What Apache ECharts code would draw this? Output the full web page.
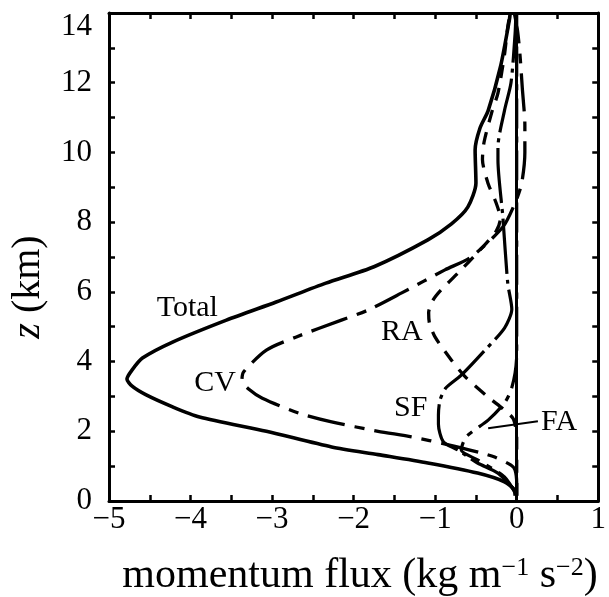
<!DOCTYPE html>
<html>
<head>
<meta charset="utf-8">
<script src="https://cdn.jsdelivr.net/npm/echarts@6/dist/echarts.min.js"></script>
<style>
html,body{margin:0;padding:0;background:#fff}
#chart{width:609px;height:597px}
</style>
</head>
<body>
<div id="chart"></div>
<script>
// Vertical profiles of momentum flux: each point is [flux (kg m^-1 s^-2), height z (km)]
const total = [[-0.02,0.15],[-0.03,0.32],[-0.15,0.55],[-0.48,0.80],[-1.09,1.09],[-1.70,1.33],[-2.27,1.55],
  [-3.07,2.0],[-3.89,2.41],[-4.22,2.70],[-4.55,3.05],[-4.72,3.3],[-4.78,3.5],[-4.72,3.75],[-4.59,4.10],
  [-4.22,4.56],[-3.56,5.19],[-2.95,5.71],[-2.34,6.25],[-1.75,6.72],[-1.09,7.49],[-0.80,7.95],[-0.60,8.43],
  [-0.50,9.12],[-0.51,10.07],[-0.45,10.7],[-0.35,11.2],[-0.20,12.45],[-0.09,13.8],[-0.08,14]];
const cv = [[0,0.15],[0,0.5],[-0.02,0.89],[-0.07,1.03],[-0.27,1.26],[-0.44,1.38],[-0.85,1.62],[-1.29,1.84],
  [-1.70,2.0],[-2.27,2.27],[-2.67,2.52],[-3.12,2.95],[-3.28,3.2],[-3.37,3.45],[-3.35,3.7],[-3.07,4.33],
  [-2.71,4.7],[-2.15,5.19],[-1.82,5.48],[-1.41,5.97],[-0.88,6.63],[-0.56,7.0],[-0.17,7.86],[-0.02,8.55],
  [0.06,9.1],[0.10,10.0],[0.10,10.8],[0.07,11.8],[0.04,12.8],[0.01,13.5],[-0.03,14]];
const ra = [[0,0.15],[0,1.8],[-0.04,2.35],[-0.15,2.61],[-0.35,2.98],[-0.63,3.56],[-0.80,4.04],[-1.0,4.7],
  [-1.07,5.1],[-1.08,5.4],[-1.03,5.75],[-0.93,6.05],[-0.72,6.54],[-0.45,7.2],[-0.25,7.75],[-0.2,8.1],
  [-0.26,8.6],[-0.35,9.1],[-0.42,9.8],[-0.40,10.3],[-0.30,11.2],[-0.23,11.7],[-0.15,12.8],[-0.11,13.6],[-0.08,14]];
const sf = [[-0.02,0.3],[-0.23,0.8],[-0.48,1.09],[-0.72,1.46],[-0.90,1.7],[-0.96,2.2],[-0.96,2.47],[-0.94,2.9],
  [-0.87,3.24],[-0.68,3.61],[-0.40,4.3],[-0.15,4.96],[-0.06,5.5],[-0.11,6.25],[-0.17,8.15],[-0.23,9.78],
  [-0.23,10.15],[-0.15,11.2],[-0.07,12.0],[-0.02,13.4],[-0.01,14]];
const fa = [[0,0.15],[-0.15,0.69],[-0.48,1.18],[-0.68,1.46],[-0.62,1.84],[-0.35,2.32],[-0.15,2.81],
  [-0.07,3.18],[-0.02,3.67],[0,4.2],[0,14]];

// curve annotations
const labelNames = ['Total', 'CV', 'RA', 'SF', 'FA'];
const labelX = [-4.04, -3.70, -1.41, -1.30, 0.52];
const labelZ = [5.54, 3.38, 4.85, 2.67, 2.27];
const faPointer = [[0.26, 2.29], [-0.35, 2.09]];

// axes
const xRange = [-5, 1];
const zRange = [0, 14];

const FONT = '"Liberation Serif", "Times New Roman", serif';
const INK = '#000';

function fmtX(v) { return v < 0 ? '\u2212' + Math.abs(v) : String(v); }

function axisBase(extra) {
  return Object.assign({
    type: 'value',
    axisLine: { show: true, onZero: false, lineStyle: { color: INK, width: 3 } },
    axisTick: { show: true, inside: true, length: 6, lineStyle: { color: INK, width: 2.5 } },
    minorTick: { show: true, splitNumber: 2, length: 6, lineStyle: { color: INK, width: 2.5 } },
    splitLine: { show: false },
    minorSplitLine: { show: false }
  }, extra);
}

const chart = echarts.init(document.getElementById('chart'), null, { renderer: 'canvas' });

const curveStyle = (type, width) => ({ color: INK, width: width, type: type, cap: 'butt', join: 'round' });

const line = (name, data, type, width) => ({
  name: name, type: 'line', data: data, showSymbol: false, symbol: 'none', smooth: 0.25,
  lineStyle: curveStyle(type, width), z: 3, animation: false
});

const staticText = [
  {
    type: 'text', x: 360, y: 576, z: 10,
    style: {
      text: 'momentum flux (kg m{sup|\u22121} s{sup|\u22122})',
      fill: INK, font: '42px ' + FONT, align: 'center', verticalAlign: 'middle',
      rich: {
        sup: { fontFamily: FONT, fontSize: 26, fill: INK, verticalAlign: 'top', lineHeight: 28 }
      }
    }
  },
  {
    type: 'text', x: 28, y: 287, rotation: Math.PI / 2, z: 10,
    style: {
      text: '{it|z} (km)',
      fill: INK, font: '40px ' + FONT, align: 'center', verticalAlign: 'middle',
      rich: { it: { fontFamily: FONT, fontSize: 40, fontStyle: 'italic', fill: INK } }
    }
  }
];

const option = {
  backgroundColor: '#fff',
  animation: false,
  grid: { left: 109, right: 8, top: 13, bottom: 96 },
  xAxis: [
    axisBase({ min: xRange[0], max: xRange[1], interval: 1, position: 'bottom',
      axisLabel: { show: true, margin: 3, color: INK, fontFamily: FONT, fontSize: 31, formatter: fmtX } }),
    axisBase({ min: xRange[0], max: xRange[1], interval: 1, position: 'top', axisLabel: { show: false } })
  ],
  yAxis: [
    axisBase({ min: zRange[0], max: zRange[1], interval: 2, position: 'left',
      axisLabel: { show: true, margin: 17, color: INK, fontFamily: FONT, fontSize: 31,
        formatter: v => v === zRange[1] ? '{lo|' + v + '}' : String(v),
        rich: { lo: { fontFamily: FONT, fontSize: 31, color: INK, padding: [28, 0, 0, 0] } } } }),
    axisBase({ min: zRange[0], max: zRange[1], interval: 2, position: 'right', axisLabel: { show: false } })
  ],
  series: [
    Object.assign(line('Total', total, 'solid', 3.6), {
      markLine: {
        silent: true, symbol: 'none', label: { show: false },
        lineStyle: { color: INK, width: 3, type: 'solid' },
        data: [{ xAxis: 0 }]
      }
    }),
    line('CV', cv, [38, 10, 10, 10], 3.3),
    line('RA', ra, [13, 10], 3.3),
    line('SF', sf, [55, 6, 4, 6], 3.2),
    Object.assign(line('FA', fa, [30, 8, 6, 8], 3.2), {
      markLine: {
        silent: true, symbol: 'none', label: { show: false },
        lineStyle: { color: INK, width: 2, type: 'solid' },
        data: [[{ coord: faPointer[0] }, { coord: faPointer[1] }]]
      }
    })
  ],
  graphic: staticText
};

chart.setOption(option);

// curve names, placed through the chart's own coordinate system
const curveLabels = labelNames.map((n, i) => {
  const p = chart.convertToPixel({ gridIndex: 0 }, [labelX[i], labelZ[i]]);
  return {
    type: 'text', x: p[0], y: p[1], z: 10,
    style: { text: n, fill: INK, font: '30px ' + FONT, align: 'center', verticalAlign: 'middle' }
  };
});
chart.setOption({ graphic: staticText.concat(curveLabels) });
</script>
</body>
</html>
